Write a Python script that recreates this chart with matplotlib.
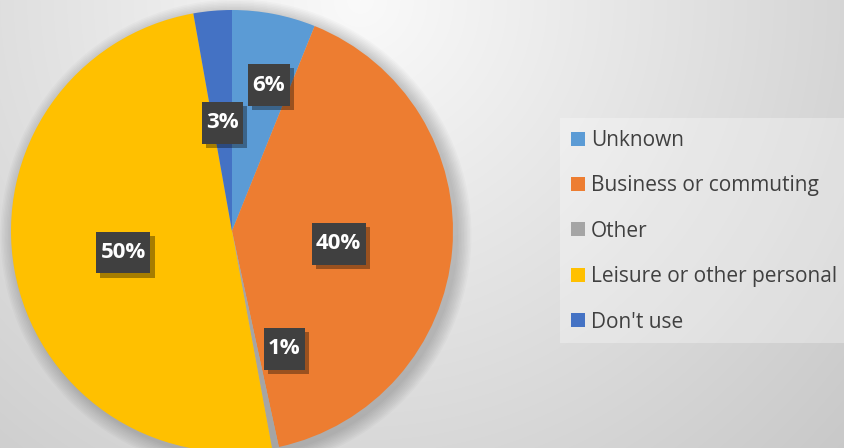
import numpy as np
import matplotlib.pyplot as plt
from matplotlib.patches import Rectangle, Circle
import matplotlib.patheffects as pe

plt.rcParams['font.family'] = ['Open Sans', 'DejaVu Sans']

labels = ['Unknown', 'Business or commuting', 'Other', 'Leisure or other personal', "Don't use"]
shares = [6.1, 40.5, 0.5, 50.1, 2.8]
pct_text = ['6%', '40%', '1%', '50%', '3%']
colors = ['#5B9BD5', '#ED7D31', '#A5A5A5', '#FFC000', '#4472C4']

W, H = 844, 448
fig = plt.figure(figsize=(W / 100, H / 100), dpi=100)
ax = fig.add_axes([0, 0, 1, 1])

# background: soft radial gradient, lightest near the top middle
yy, xx = np.mgrid[0:H, 0:W]
d = np.hypot(xx - 360, yy - 0)
g = np.clip(250 - 0.075 * d, 190, 250) / 255
ax.imshow(np.dstack([g, g, g]), extent=(0, W, 0, H), origin='upper', zorder=0)

cx, cy, r = 232, H - 231, 221

# soft shadow around the pie
for i in range(10):
    ax.add_patch(Circle((cx + 4, cy - 4), r + 1 + i * 1.5, color='black',
                        alpha=0.02, lw=0, zorder=1))

wedges, _ = ax.pie(shares, colors=colors, startangle=90, counterclock=False,
                   center=(cx, cy), radius=r, wedgeprops=dict(linewidth=0))
for w in wedges:
    w.set_zorder(2)

# label positions along each wedge (fraction of radius, angle shift in degrees)
lab_dist = [0.69, 0.485, 0.575, 0.50, 0.50]
lab_shift = [3, 1, -13, 0, 0]
for w, txt, dist, sh in zip(wedges, pct_text, lab_dist, lab_shift):
    ang = np.deg2rad((w.theta1 + w.theta2) / 2 - sh)
    t = ax.text(cx + dist * r * np.cos(ang), cy + dist * r * np.sin(ang) - 2, txt,
                ha='center', va='center', color='white', fontsize=16,
                fontweight='bold', zorder=5,
                bbox=dict(boxstyle='square,pad=0.2', fc='#404040', ec='none',
                          mutation_aspect=2.3))
    t.get_bbox_patch().set_path_effects([
        pe.SimplePatchShadow(offset=(3, -3), shadow_rgbFace='black', alpha=0.35),
        pe.Normal()])

# legend panel
ax.add_patch(Rectangle((560, H - 343), W - 560, 225, fc='white', alpha=0.3,
                       lw=0, zorder=1))
leg = ax.legend(wedges, labels, loc='upper left', bbox_to_anchor=(571 / W, 1 - 130 / H),
                frameon=False, fontsize=15, labelcolor='#404040',
                handlelength=0.65, handleheight=0.65, handletextpad=0.3,
                labelspacing=1.17, borderpad=0, borderaxespad=0)

ax.set_xlim(0, W)
ax.set_ylim(0, H)
ax.set_aspect('auto')
ax.axis('off')

fig.savefig('out.png', dpi=100)
